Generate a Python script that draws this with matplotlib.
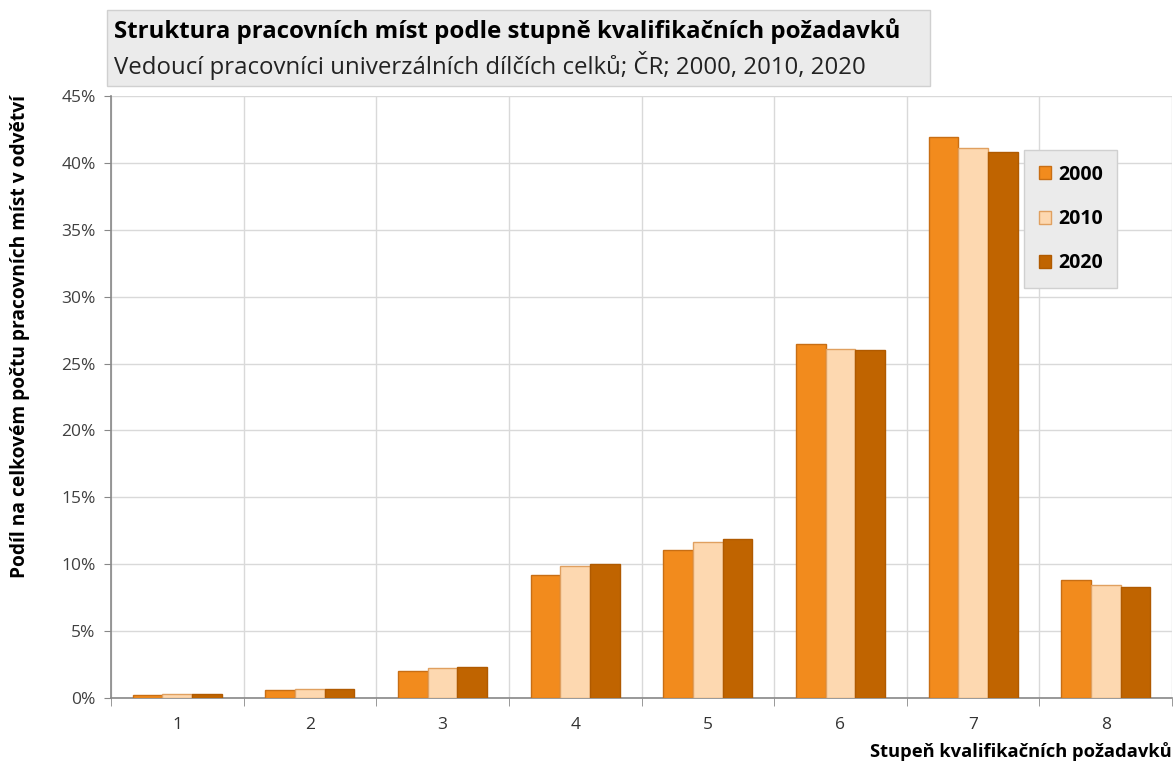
import matplotlib.pyplot as plt
import numpy as np
from matplotlib.patches import Rectangle

plt.rcParams['font.family'] = ['Open Sans', 'DejaVu Sans']

categories = ['1', '2', '3', '4', '5', '6', '7', '8']
years = ['2000', '2010', '2020']
v2000 = [0.22, 0.60, 2.0, 9.2, 11.1, 26.45, 41.9, 8.8]
v2010 = [0.30, 0.67, 2.25, 9.85, 11.65, 26.1, 41.1, 8.45]
v2020 = [0.30, 0.67, 2.3, 10.0, 11.85, 26.05, 40.8, 8.3]
yticks = [0, 5, 10, 15, 20, 25, 30, 35, 40, 45]

colors = ['#F28B1D', '#FDD8B0', '#C06400']
edges = ['#C86E14', '#E0A060', '#B05A00']

fig = plt.figure(figsize=(11.74, 7.62), dpi=100)
ax = fig.add_axes([111 / 1174, 1 - 698 / 762, (1172 - 111) / 1174, (698 - 96) / 762])

x = np.arange(len(categories))
w = 0.224
for i, (vals, c, ec) in enumerate(zip([v2000, v2010, v2020], colors, edges)):
    ax.bar(x + (i - 1) * w, vals, w, color=c, edgecolor=ec, linewidth=1.0,
           label=years[i], zorder=3)

ax.set_xlim(-0.5, len(categories) - 0.5)
ax.set_ylim(0, 45)
ax.set_yticks(yticks)
ax.set_yticklabels(['%d%%' % t for t in yticks])
ax.set_xticks(x)
ax.set_xticklabels(categories)
ax.set_xticks(np.arange(len(categories) + 1) - 0.5, minor=True)
ax.tick_params(axis='x', which='major', length=0, pad=14, labelsize=12.5, labelcolor='#333333')
ax.tick_params(axis='x', which='minor', length=6, color='#888888', direction='out')
ax.tick_params(axis='y', length=5, color='#888888', labelsize=12.5, labelcolor='#404040', pad=6)

ax.grid(True, axis='y', color='#D9D9D9', linewidth=1, zorder=0)
ax.grid(True, axis='x', which='minor', color='#D9D9D9', linewidth=1, zorder=0)
for s in ['top', 'right']:
    ax.spines[s].set_visible(False)
for s in ['left', 'bottom']:
    ax.spines[s].set_color('#888888')
    ax.spines[s].set_linewidth(1.2)

leg = ax.legend(loc='upper left', bbox_to_anchor=((1024 - 111) / 1061, (698 - 150) / 602),
                frameon=True, fancybox=False, prop={'size': 14, 'weight': 'bold'},
                labelspacing=1.25, handlelength=0.65, handleheight=0.65, handletextpad=0.35,
                borderpad=0.75, borderaxespad=0)
leg.get_frame().set_facecolor('#EBEBEB')
leg.get_frame().set_edgecolor('#D0D0D0')
leg.get_frame().set_alpha(1)

fig.patches.append(Rectangle((107 / 1174, 1 - 86 / 762), (930 - 107) / 1174, 76 / 762,
                             transform=fig.transFigure, facecolor='#EBEBEB',
                             edgecolor='#D0D0D0', linewidth=1, zorder=0))
fig.text(114 / 1174, 1 - 31 / 762, 'Struktura pracovních míst podle stupně kvalifikačních požadavků',
         fontsize=17.3, fontweight='bold', va='center', ha='left')
fig.text(114 / 1174, 1 - 66 / 762, 'Vedoucí pracovníci univerzálních dílčích celků; ČR; 2000, 2010, 2020',
         fontsize=17.3, va='center', ha='left', color='#222222')

fig.text(20 / 1174, 1 - 336 / 762, 'Podíl na celkovém počtu pracovních míst v odvětví',
         rotation=90, fontsize=13.8, fontweight='bold', va='center', ha='center')
fig.text(1172 / 1174, 1 - 752 / 762, 'Stupeň kvalifikačních požadavků',
         fontsize=13.2, fontweight='bold', va='center', ha='right')

fig.savefig('out.png', dpi=100)
